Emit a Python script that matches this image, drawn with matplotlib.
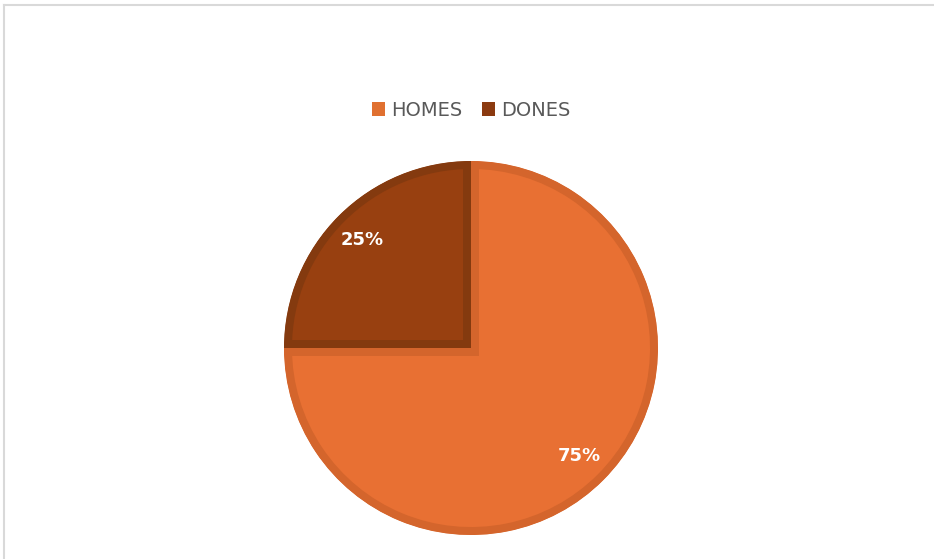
import matplotlib.pyplot as plt
from matplotlib.patches import Patch
from matplotlib.lines import Line2D

# Data
labels = ['HOMES', 'DONES']
values = [75, 25]
colors = ['#E87033', '#984010']
edge_colors = ['#D4652C', '#843A0F']
legend_colors = ['#E07030', '#8B3A10']

W, H = 934, 559
fig = plt.figure(figsize=(W / 100, H / 100), dpi=100)

# thin gray frame on top and left like the screenshot
fig.add_artist(Line2D([4 / W, 4 / W], [0, 1 - 5 / H], color='#d9d9d9', lw=1.5))
fig.add_artist(Line2D([4 / W, 1], [1 - 5 / H, 1 - 5 / H], color='#d9d9d9', lw=1.5))

# pie axes: centre (471, 348) px, radius 187 px
r = 187
cx, cy = 471, 348
ax = fig.add_axes([(cx - r) / W, (H - cy - r) / H, 2 * r / W, 2 * r / H])

wedges, texts, autotexts = ax.pie(
    values, colors=colors, startangle=90, counterclock=False,
    autopct='%1.0f%%', pctdistance=0.82,
    wedgeprops=dict(linewidth=11.5),
    textprops=dict(color='white', fontsize=13, fontweight='bold'))

# darker inner border: draw the edge and clip it to the wedge itself
for w, ec in zip(wedges, edge_colors):
    w.set_edgecolor(ec)
    w.set_clip_on(True)
    w.set_clip_path(w.get_path(), w.get_transform())

ax.set_xlim(-1, 1)
ax.set_ylim(-1, 1)
ax.set_aspect('equal')
ax.axis('off')

handles = [Patch(facecolor=c, edgecolor='none') for c in legend_colors]
fig.legend(handles, labels, loc='center', bbox_to_anchor=(471 / W, 1 - 110 / H),
           ncol=2, frameon=False, fontsize=14, handlelength=0.7, handleheight=0.7,
           handletextpad=0.3, columnspacing=1.0, labelcolor='#595959')

fig.savefig('out.png', dpi=100, facecolor='white')
